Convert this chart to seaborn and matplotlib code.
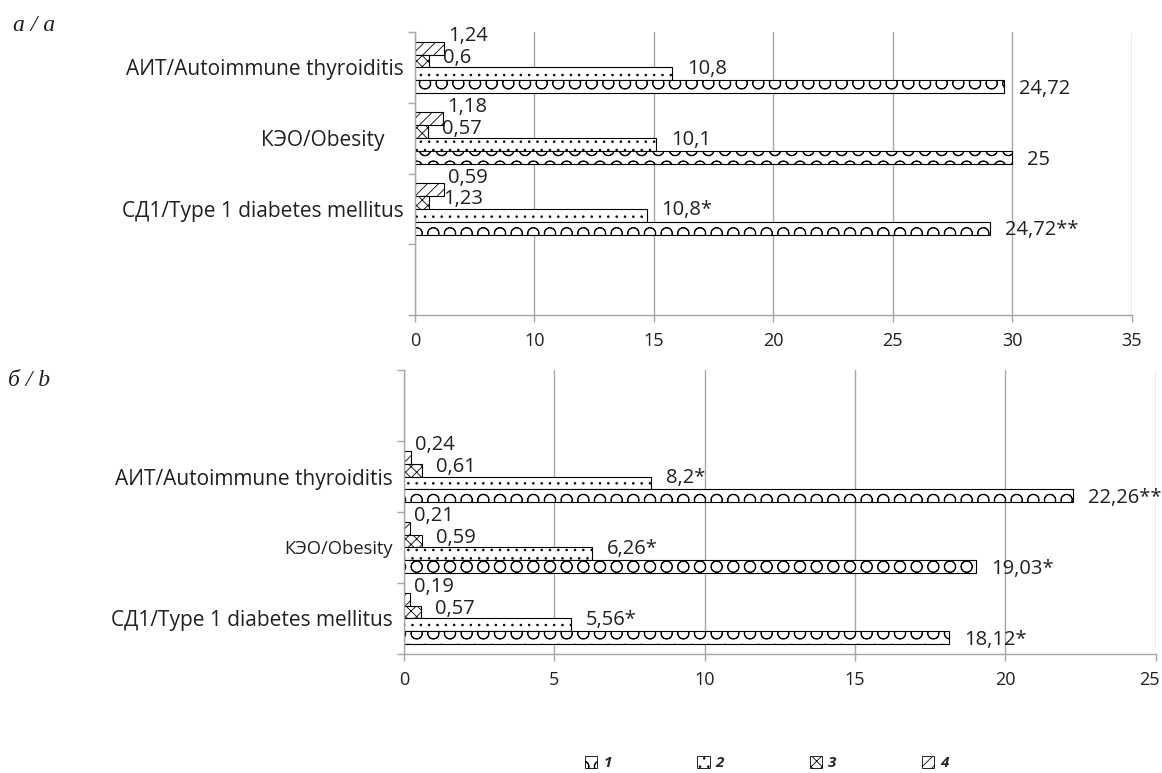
import pandas as pd
import matplotlib.pyplot as plt
import seaborn as sns
from matplotlib.patches import Patch
from matplotlib.transforms import ScaledTranslation

# Categories and series
categories = ["АИТ/Autoimmune thyroiditis", "КЭО/Obesity", "СД1/Type 1 diabetes mellitus"]
series = ["1", "2", "3", "4"]

# Panel a - bar lengths as drawn in the figure
a_s1 = [24.67, 25.0, 24.05]
a_s2 = [10.75, 10.08, 9.7]
a_s3 = [0.6, 0.57, 0.59]
a_s4 = [1.24, 1.18, 1.23]
a_lab1 = ["24,72", "25", "24,72**"]
a_lab2 = ["10,8", "10,1", "10,8*"]
a_lab3 = ["0,6", "0,57", "1,23"]
a_lab4 = ["1,24", "1,18", "0,59"]
a_xticks = [0, 5, 10, 15, 20, 25, 30]
a_xticklabels = ["0", "10", "15", "20", "25", "30", "35"]

# Panel b
b_s1 = [22.26, 19.03, 18.12]
b_s2 = [8.2, 6.26, 5.56]
b_s3 = [0.61, 0.59, 0.57]
b_s4 = [0.24, 0.21, 0.19]
b_lab1 = ["22,26**", "19,03*", "18,12*"]
b_lab2 = ["8,2*", "6,26*", "5,56*"]
b_lab3 = ["0,61", "0,59", "0,57"]
b_lab4 = ["0,24", "0,21", "0,19"]
b_xticks = [0, 5, 10, 15, 20, 25]
b_xticklabels = ["0", "5", "10", "15", "20", "25"]

sns.set_style("white")
plt.rcParams["font.family"] = ["Open Sans", "DejaVu Sans"]
plt.rcParams["hatch.linewidth"] = 0.6

grey = "#a6a6a6"
txt = "#231f20"
hue_order = ["4", "3", "2", "1"]
hatches = {"1": "O", "2": "..", "3": "xxx", "4": "///"}
# label offsets in pixels (dx, dy) per series
offsets = {"1": (15, -2), "2": (15, 5), "3": (14, 3), "4": (4, 12)}


def long_df(vals):
    rows = []
    for s, v in zip(series, vals):
        for c, x in zip(categories, v):
            rows.append({"category": c, "series": s, "value": x})
    return pd.DataFrame(rows)


def draw_panel(ax, vals, labels, xticks, xticklabels, ylim):
    df = long_df(vals)
    sns.barplot(data=df, x="value", y="category", hue="series", hue_order=hue_order,
                order=categories, orient="h", palette=["white"] * 4, saturation=1,
                edgecolor="black", linewidth=0.8, width=0.73, legend=False, ax=ax)
    lab = dict(zip(series, labels))
    for cont, s in zip(ax.containers, hue_order):
        for bar in cont:
            bar.set_hatch(hatches[s])
            yc = bar.get_y() + bar.get_height() / 2
            i = int(round(yc))
            dx, dy = offsets[s]
            ax.annotate(lab[s][i], xy=(bar.get_width(), yc), xytext=(dx, dy),
                        textcoords="offset pixels", ha="left", va="center",
                        fontsize=14.5, color=txt)
    ax.set_xlim(xticks[0], xticks[-1])
    ax.set_ylim(*ylim)
    ax.set_xticks(xticks)
    ax.set_xticklabels(xticklabels)
    lo, hi = sorted(ylim)
    ax.set_yticks([lo + k for k in range(int(hi - lo) + 1)])
    ax.set_yticklabels([])
    ax.set_yticks(range(len(categories)), minor=True)
    ax.set_yticklabels(categories, minor=True)
    ax.tick_params(axis="y", which="major", left=True, length=5, color=grey, width=1)
    ax.tick_params(axis="y", which="minor", left=True, length=0, pad=8, labelsize=15,
                   labelcolor=txt)
    ax.tick_params(axis="x", bottom=True, length=5, color=grey, width=1, pad=7,
                   labelsize=13, labelcolor=txt)
    ax.grid(axis="x", color=grey, linewidth=1)
    ax.set_axisbelow(True)
    ax.set_xlabel("")
    ax.set_ylabel("")
    sns.despine(ax=ax, top=True, right=True)
    for sp in ["left", "bottom"]:
        ax.spines[sp].set_color(grey)
        ax.spines[sp].set_linewidth(1)


fig = plt.figure(figsize=(11.62, 7.73), dpi=100)
ax1 = fig.add_axes([0.357, 0.5925, 0.617, 0.366])
ax2 = fig.add_axes([0.3477, 0.154, 0.647, 0.3673])

draw_panel(ax1, [a_s1, a_s2, a_s3, a_s4], [a_lab1, a_lab2, a_lab3, a_lab4],
           a_xticks, a_xticklabels, (3.5, -0.5))
draw_panel(ax2, [b_s1, b_s2, b_s3, b_s4], [b_lab1, b_lab2, b_lab3, b_lab4],
           b_xticks, b_xticklabels, (2.5, -1.5))

# quirks of the original layout
ax1.get_yticklabels(minor=True)[1].set_transform(
    ax1.get_yaxis_transform(which="tick1") + ScaledTranslation(-0.3, 0, fig.dpi_scale_trans))
ax2.get_yticklabels(minor=True)[1].set_fontsize(13.2)
last = ax2.get_xticklabels()[-1]
last.set_transform(last.get_transform() + ScaledTranslation(-0.06, 0, fig.dpi_scale_trans))

fig.text(0.011, 0.967, "а / a", family="Liberation Serif", style="italic",
         fontsize=17, color=txt, va="center")
fig.text(0.007, 0.508, "б / b", family="Liberation Serif", style="italic",
         fontsize=17, color=txt, va="center")

handles = [Patch(facecolor="white", edgecolor="black", linewidth=0.6,
                 hatch=hatches[s], label=s) for s in series]
fig.legend(handles=handles, loc="center", bbox_to_anchor=(0.66, 0.013), ncol=4,
           frameon=False, handlelength=0.8, handleheight=0.8, handletextpad=0.4,
           columnspacing=5.6, prop={"weight": "bold", "style": "italic", "size": 11})

fig.savefig("out.png", dpi=100)
